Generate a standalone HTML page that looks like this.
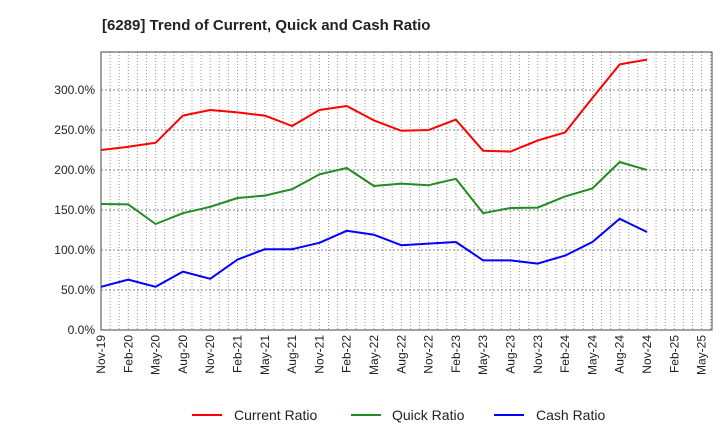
<!DOCTYPE html>
<html><head><meta charset="utf-8"><style>
body{margin:0;background:#fff;width:720px;height:440px;overflow:hidden;font-family:"Liberation Sans",sans-serif;}
</style></head><body>
<svg id="chart" width="720" height="440" xmlns="http://www.w3.org/2000/svg" font-family="Liberation Sans, sans-serif">
<text x="102" y="30" font-size="15" font-weight="bold" fill="#222">[6289]  Trend of Current, Quick and Cash Ratio</text>
<g id="grid"></g><g id="axes"></g><g id="series"></g>
<g>
<line x1="192" y1="415" x2="222" y2="415" stroke="#f00" stroke-width="2"/><text x="234" y="420" font-size="14" fill="#222">Current Ratio</text>
<line x1="351" y1="415" x2="381" y2="415" stroke="#228b22" stroke-width="2"/><text x="392" y="420" font-size="14" fill="#222">Quick Ratio</text>
<line x1="494" y1="415" x2="524" y2="415" stroke="#00f" stroke-width="2"/><text x="536" y="420" font-size="14" fill="#222">Cash Ratio</text>
</g>
</svg>
<script>
const xLabels=["Nov-19","Feb-20","May-20","Aug-20","Nov-20","Feb-21","May-21","Aug-21","Nov-21","Feb-22","May-22","Aug-22","Nov-22","Feb-23","May-23","Aug-23","Nov-23","Feb-24","May-24","Aug-24","Nov-24","Feb-25","May-25"];
const yTicks=[0,50,100,150,200,250,300];
const currentRatio=[225,229,234,268,275,272,268,255,275,280,262,249,250,263,224,223,237,247,290,332,338];
const quickRatio=[157.5,157,132.5,146,154,165,168,176,194.5,202.5,180,183,181,189,146,152.5,153,167,177,210,200];
const cashRatio=[54,63,54,73,64,88,101,101,109,124,119,106,108,110,87,87,83,93,110,139,122.5];
const L=101,R=712,T=52,B=330,YMAX=347.5,STEP=27.3;
const xs=i=>L+STEP*i;
const ys=v=>B-(B-T)*v/YMAX;
const NS="http://www.w3.org/2000/svg";
function mk(t,a,p){const e=document.createElementNS(NS,t);for(const k in a)e.setAttribute(k,a[k]);p.appendChild(e);return e;}
const grid=document.getElementById('grid'),axes=document.getElementById('axes'),ser=document.getElementById('series');
for(let m=1;L+STEP*m/3<R-1;m++){const x=L+STEP*m/3;
const g=mk('line',{x1:x,x2:x,y1:T,y2:B,stroke:'#999','stroke-width':1,'stroke-dasharray':'1,2'},grid);
}
yTicks.forEach(v=>{const y=ys(v);
if(v>0){const g=mk('line',{x1:L,x2:R,y1:y,y2:y,stroke:'#888','stroke-width':1,'stroke-dasharray':'2,2'},grid);
}
const t=mk('text',{x:L-6,y:y+4,'text-anchor':'end','font-size':12,fill:'#222'},axes);t.textContent=v.toFixed(1)+'%';
});
const fr=mk('rect',{x:L,y:T,width:R-L,height:B-T,fill:'none',stroke:'#444','stroke-width':1},axes);

xLabels.forEach((s,i)=>{const x=xs(i);const t=mk('text',{x:0,y:0,transform:`translate(${x+4},${B+5}) rotate(-90)`,'text-anchor':'end','font-size':12,fill:'#222'},axes);t.textContent=s;
});
[[currentRatio,'#f00','current-ratio-line'],[quickRatio,'#228b22','quick-ratio-line'],[cashRatio,'#00f','cash-ratio-line']].forEach(([d,c,n])=>{
const p=mk('polyline',{points:d.map((v,i)=>xs(i)+','+ys(v)).join(' '),fill:'none',stroke:c,'stroke-width':2,'stroke-linejoin':'round'},ser);
});
</script>
</body></html>
